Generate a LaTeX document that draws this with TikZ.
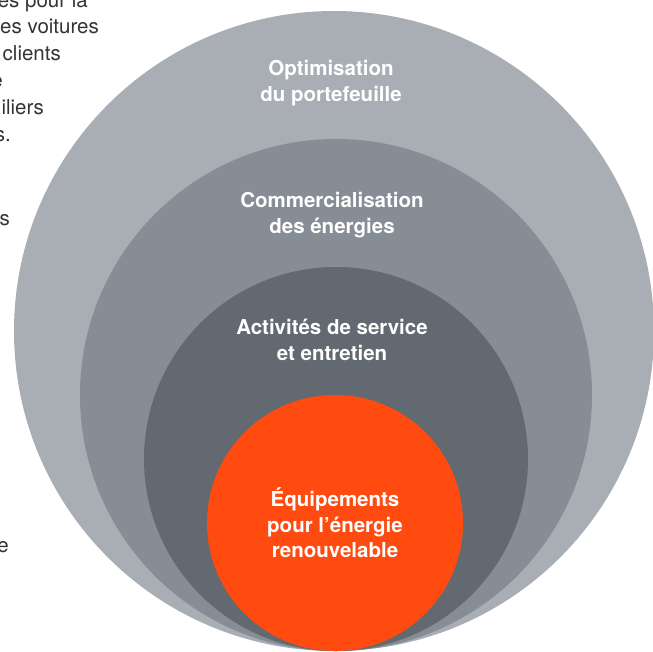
\documentclass[tikz,border=0pt]{standalone}
\usepackage{fontspec}
\setmainfont{TeX Gyre Heros}
\usepackage{tikz}
\definecolor{ringA}{HTML}{A8AEB4}
\definecolor{ringB}{HTML}{868D94}
\definecolor{ringC}{HTML}{626970}
\definecolor{coreO}{HTML}{FF4A10}
\definecolor{bodytext}{HTML}{333333}
\begin{document}
\begin{tikzpicture}[x=1pt, y=-1pt,
	ringlabel/.style={text=white, font=\fontsize{20.5}{25.5}\selectfont\bfseries, align=center},
	sidetext/.style={text=bodytext, font=\fontsize{20.5}{27}\selectfont, anchor=base east, inner sep=0pt}]
\useasboundingbox (0,0) rectangle (653,651);
\clip (0,0) rectangle (653,651);
% text of the column to the left, cut off
\node[sidetext] (t1) at (88,7) {es pour la};
\node[sidetext] (t2) at (99,33) {es voitures};
\node[sidetext] (t3) at (61,60) {clients};
\node[sidetext] (t4) at (3,87) {e};
\node[sidetext] (t5) at (44,114) {iliers};
\node[sidetext] (t6) at (11,141) {s.};
\node[sidetext] (t7) at (10,225) {s};
\node[sidetext] (t8) at (9,552) {e};
% nested circles
\fill[ringA] (334,331) circle (320);
\fill[ringB] (336,395) circle (256);
\fill[ringC] (336,459) circle (192);
\fill[coreO] (335,523) circle (128);
\node[ringlabel] (portfolio) at (331,83) {Optimisation\\du portefeuille};
\node[ringlabel] (trading) at (332,215) {Commercialisation\\des énergies};
\node[ringlabel] (service) at (332,340) {Activités de service\\et entretien};
\node[ringlabel] (equipment) at (335,523) {Équipements\\pour l’énergie\\renouvelable};
\end{tikzpicture}
\end{document}
